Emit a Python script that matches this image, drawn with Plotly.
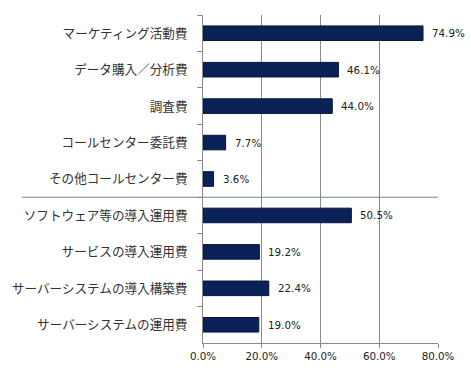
import plotly.graph_objects as go

categories = [
    "マーケティング活動費",
    "データ購入／分析費",
    "調査費",
    "コールセンター委託費",
    "その他コールセンター費",
    "ソフトウェア等の導入運用費",
    "サービスの導入運用費",
    "サーバーシステムの導入構築費",
    "サーバーシステムの運用費",
]
values = [74.9, 46.1, 44.0, 7.7, 3.6, 50.5, 19.2, 22.4, 19.0]
x_ticks = [0, 20, 40, 60, 80]
x_tick_labels = ["0.0%", "20.0%", "40.0%", "60.0%", "80.0%"]
separator_after = 4.5

fig = go.Figure()
fig.add_trace(go.Bar(
    x=values, y=categories, orientation="h",
    marker=dict(color="#0b2258", line=dict(color="#06143a", width=1)),
    width=0.4, hoverinfo="skip",
))

for c, v in zip(categories, values):
    fig.add_annotation(
        x=v, y=c, xref="x", yref="y", text=f"{v:.1f}%",
        showarrow=False, xanchor="left", xshift=7,
        font=dict(family="DejaVu Sans", size=10.3, color="#222222"),
    )

fig.add_shape(
    type="line", xref="paper", yref="y",
    x0=-0.77, x1=1.0, y0=separator_after, y1=separator_after,
    line=dict(color="#6a879e", width=1),
)

fig.update_layout(
    width=471, height=375,
    margin=dict(l=203, r=33, t=15, b=32),
    plot_bgcolor="white", paper_bgcolor="white",
    showlegend=False,
    font=dict(family="Noto Sans CJK JP", color="#333333"),
    xaxis=dict(
        range=[0, 80], tickvals=x_ticks, ticktext=x_tick_labels,
        showgrid=True, gridcolor="#8a8a8a", gridwidth=1,
        showline=True, linecolor="#8a8a8a", linewidth=1,
        ticks="outside", ticklen=4, tickcolor="#8a8a8a",
        tickfont=dict(family="DejaVu Sans", size=10.3, color="#222222"),
        zeroline=False, fixedrange=True,
    ),
    yaxis=dict(
        autorange="reversed", type="category",
        showline=True, linecolor="#8a8a8a", linewidth=1,
        ticks="outside", ticklen=5, tickcolor="#8a8a8a",
        tickson="boundaries",
        tickfont=dict(family="Noto Sans CJK JP", size=12.6, color="#333333"),
        ticklabelstandoff=12,
        showgrid=False, fixedrange=True,
    ),
)

fig.write_html(
    "out.html",
    config={"displayModeBar": False},
    post_script="document.body.style.margin='0';document.body.style.overflow='hidden';",
)
